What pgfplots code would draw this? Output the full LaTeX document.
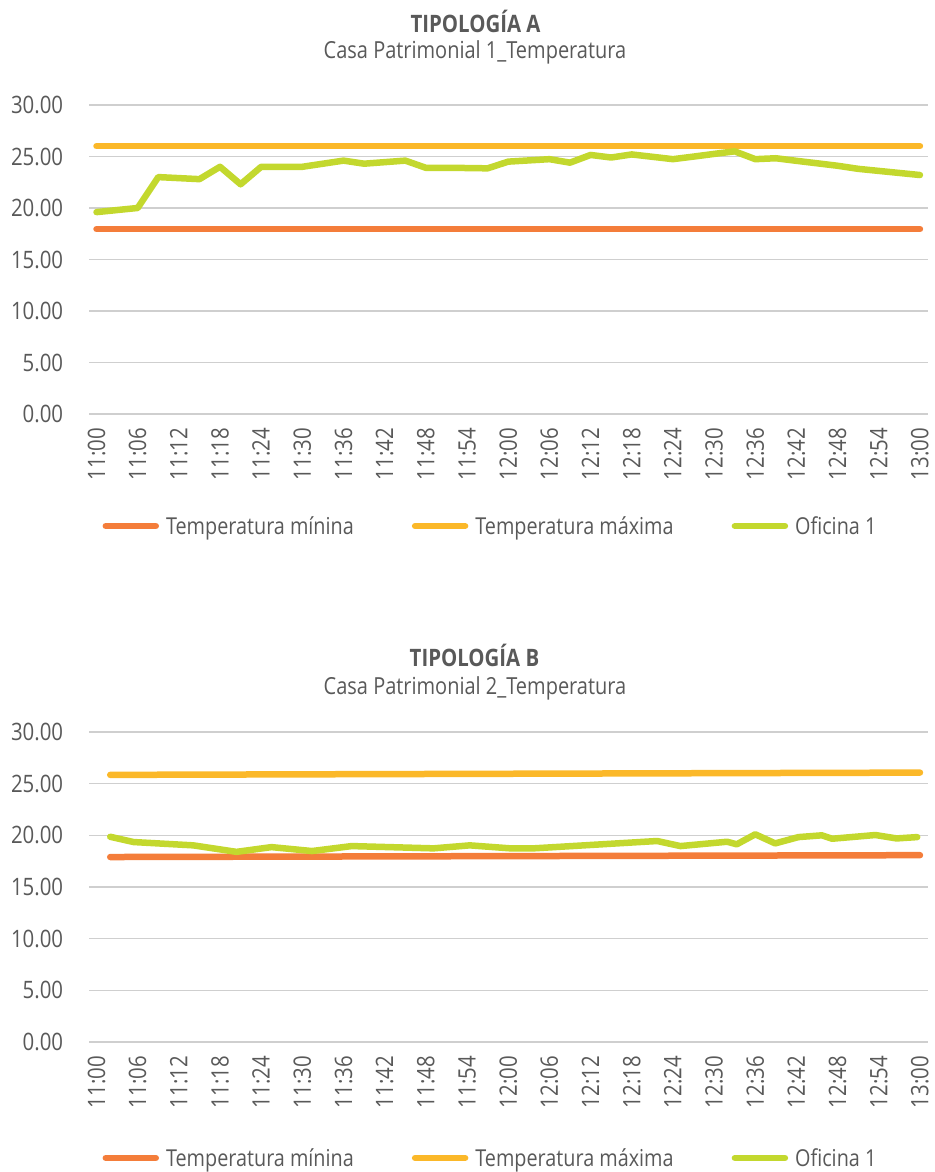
\documentclass[border=0pt]{standalone}
\usepackage{fontspec}
\setmainfont[FakeStretch=0.85]{Open Sans}
\usepackage{pgfplots}
\pgfplotsset{compat=1.18}
\definecolor{cmin}{HTML}{F47D3A}
\definecolor{cmax}{HTML}{FBB829}
\definecolor{cofi}{HTML}{C3D82E}
\definecolor{ctxt}{HTML}{595959}
\definecolor{cgrid}{HTML}{CFCFCF}
\pgfplotsset{
  tempaxis/.style={
    scale only axis, width=838.2pt, anchor=south west,
    xmin=-1.05, xmax=121.1, ymin=0, ymax=30,
    axis line style={draw=none},
    major tick length=0pt,
    ytick={0,5,...,30},
    xtick={0,6,...,120},
    xticklabels={11:00,11:06,11:12,11:18,11:24,11:30,11:36,11:42,11:48,11:54,12:00,12:06,12:12,12:18,12:24,12:30,12:36,12:42,12:48,12:54,13:00},
    ymajorgrids, grid style={cgrid, line width=1.3pt},
    scaled y ticks=false,
    tick label style={font=\fontsize{24}{24}\selectfont, text=ctxt},
    yticklabel style={/pgf/number format/fixed, /pgf/number format/fixed zerofill, /pgf/number format/precision=2, /pgf/number format/assume math mode=true, anchor=east, inner sep=0pt},
    xticklabel style={rotate=90, anchor=east, inner sep=0pt},
    xticklabel shift=14pt, yticklabel shift=26pt,
    clip=false,
    legend columns=3,
    legend image code/.code={\draw[#1] (0pt,0pt) -- (50pt,0pt);},
    legend style={draw=none, fill=none, inner sep=0pt, outer sep=0pt,
      nodes={inner sep=0pt},
      font=\fontsize{23.3}{23.3}\selectfont, text=ctxt,
      anchor=west,
      /tikz/every odd column/.append style={column sep=7pt},
      /tikz/every even column/.append style={column sep=58pt}},
  },
  serie/.style={line width=6.5pt, line cap=round, line join=round},
}
\begin{document}
\begin{tikzpicture}
\path[use as bounding box] (0pt,0pt) rectangle (934pt,1172pt);
\node[anchor=base, font=\bfseries\fontsize{24}{24}\selectfont, text=ctxt] at (475.5pt,1139.7pt) {TIPOLOGÍA A};
\node[anchor=base, font=\fontsize{23.5}{23.5}\selectfont, text=ctxt] at (475pt,1113.7pt) {Casa Patrimonial 1\_Temperatura};
\node[anchor=base, font=\bfseries\fontsize{24}{24}\selectfont, text=ctxt] at (474.5pt,505.3pt) {TIPOLOGÍA B};
\node[anchor=base, font=\fontsize{23.5}{23.5}\selectfont, text=ctxt] at (475pt,477.5pt) {Casa Patrimonial 2\_Temperatura};

\begin{axis}[tempaxis, height=309pt, at={(89.3pt,758pt)},
  legend style={at={(0.0158,-0.3625)}}]
\addplot[cmin, serie] coordinates {(0,17.95) (120,17.95)};
\addplot[cmax, serie] coordinates {(0,26.0) (120,26.0)};
\addplot[cofi, serie] coordinates {
(0,19.6) (3,19.8) (6,20.0) (9,23.0) (12,22.9) (15,22.8) (18,24.0) (21,22.3)
(24,24.0) (27,24.0) (30,24.0) (33,24.3) (36,24.6) (39,24.3) (42,24.45) (45,24.6)
(48,23.9) (51,23.9) (54,23.88) (57,23.85) (60,24.5) (63,24.62) (66,24.74) (69,24.4)
(72,25.15) (75,24.9) (78,25.2) (81,24.97) (84,24.74) (87,24.99) (90,25.25) (93,25.5)
(96,24.74) (99,24.83) (102,24.58) (105,24.34) (108,24.1) (111,23.8) (114,23.6) (117,23.4) (120,23.2)};
\legend{Temperatura mínina, Temperatura máxima, Oficina 1}
\end{axis}

\begin{axis}[tempaxis, height=310pt, at={(89.3pt,130pt)},
  legend style={at={(0.0158,-0.374)}}]
\addplot[cmin, serie] coordinates {(2,17.9) (120,18.08)};
\addplot[cmax, serie] coordinates {(2,25.85) (120,26.07)};
\addplot[cofi, serie] coordinates {
(2,19.86) (5.4,19.35) (14.1,19.03) (20.4,18.4) (25.5,18.86) (31.4,18.48) (37.2,18.96)
(49.1,18.74) (54.4,19.03) (60.3,18.74) (63.7,18.74) (81.7,19.45) (85.1,18.96) (91.9,19.38)
(93.3,19.13) (96.0,20.1) (98.9,19.22) (102.3,19.83) (105.7,20.0) (107.2,19.67) (113.5,20.03)
(116.6,19.7) (119.6,19.83)};
\legend{Temperatura mínina, Temperatura máxima, Oficina 1}
\end{axis}
\end{tikzpicture}
\end{document}
